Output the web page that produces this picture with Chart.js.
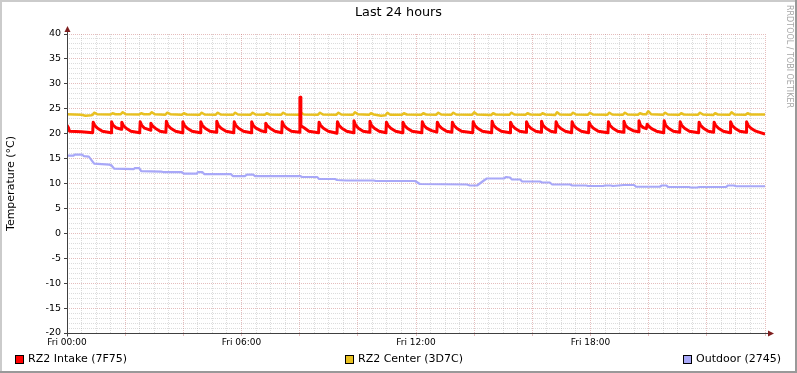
<!DOCTYPE html>
<html>
<head>
<meta charset="utf-8">
<script src="https://cdn.jsdelivr.net/npm/chart.js@4.4.1/dist/chart.umd.min.js"></script>
<style>
  html, body { margin: 0; padding: 0; background: #ffffff; }
  #wrap { width: 797px; height: 373px; }
</style>
</head>
<body>
<div id="wrap"><canvas id="myChart" width="797" height="373"></canvas></div>
<script>
// time in minutes since Fri 00:00, temperature in °C
const chartTitle = "Last 24 hours";
const yTitle = "Temperature (°C)";
const seriesNames = ["RZ2 Intake (7F75)", "RZ2 Center (3D7C)", "Outdoor (2745)"];
const seriesColors = ["#ff0000", "#e8c020", "#a8a8f8"];
const hourLabels = ["Fri 00:00", "Fri 06:00", "Fri 12:00", "Fri 18:00"];

const intakePoints = [
  [0, 21.7], [3, 21.2], [5, 20.5], [30, 20.4], [53, 20.2],
  [54, 22.3], [57, 21.7], [63, 21.1], [73, 20.5], [91, 20.2],
  [92, 22.4], [95, 21.7], [101, 21.2], [112, 20.9],
  [113, 22.3], [116, 21.7], [122, 21.1], [132, 20.5], [150, 20.2],
  [151, 22.4], [154, 21.7], [160, 21.1], [172, 20.7],
  [173, 22.1], [176, 21.6], [182, 21.1], [192, 20.5], [204, 20.3],
  [205, 22.5], [208, 21.7], [214, 21.1], [224, 20.5], [238, 20.2],
  [239, 22.4], [242, 21.7], [248, 21.1], [258, 20.5], [275, 20.2],
  [276, 22.4], [279, 21.7], [285, 21.1], [295, 20.5], [308, 20.3],
  [309, 22.5], [312, 21.7], [318, 21.1], [328, 20.5], [344, 20.2],
  [345, 22.4], [348, 21.7], [354, 21.1], [364, 20.5], [380, 20.2],
  [381, 22.4], [384, 21.7], [390, 21.1], [400, 20.6], [409, 20.4],
  [410, 22.1], [413, 21.6], [419, 21.1], [429, 20.5], [443, 20.2],
  [444, 22.4], [447, 21.7], [453, 21.1], [463, 20.5], [480, 20.3],
  [480.5, 27.3], [482, 27.3], [482.5, 21.6], [489, 21.2], [499, 20.5], [519, 20.2],
  [520, 22.3], [523, 21.7], [529, 21.1], [539, 20.5], [557, 20.1],
  [558, 22.4], [561, 21.7], [567, 21.1], [577, 20.5], [591, 20.2],
  [592, 22.6], [595, 21.8], [601, 21.1], [611, 20.5], [624, 20.3],
  [625, 22.5], [628, 21.7], [634, 21.1], [644, 20.5], [658, 20.2],
  [659, 22.3], [662, 21.7], [668, 21.1], [678, 20.5], [692, 20.2],
  [693, 22.3], [696, 21.7], [702, 21.1], [712, 20.5], [732, 20.2],
  [733, 22.4], [736, 21.7], [742, 21.1], [752, 20.6], [763, 20.3],
  [764, 22.3], [767, 21.7], [773, 21.1], [783, 20.5], [794, 20.3],
  [795, 22.3], [798, 21.7], [804, 21.1], [814, 20.5], [837, 20.2],
  [838, 22.4], [841, 21.7], [847, 21.1], [857, 20.5], [876, 20.2],
  [877, 22.5], [880, 21.7], [886, 21.1], [896, 20.5], [914, 20.2],
  [915, 22.3], [918, 21.7], [924, 21.1], [934, 20.5], [947, 20.3],
  [948, 22.4], [951, 21.7], [957, 21.1], [967, 20.5], [978, 20.3],
  [979, 22.5], [982, 21.7], [988, 21.1], [998, 20.5], [1008, 20.3],
  [1009, 22.4], [1012, 21.7], [1018, 21.1], [1028, 20.5], [1041, 20.2],
  [1042, 22.4], [1045, 21.7], [1051, 21.1], [1061, 20.5], [1076, 20.2],
  [1077, 22.3], [1080, 21.7], [1086, 21.1], [1096, 20.5], [1116, 20.2],
  [1117, 22.4], [1120, 21.7], [1126, 21.1], [1136, 20.5], [1148, 20.3],
  [1149, 22.5], [1152, 21.7], [1158, 21.1], [1168, 20.6], [1179, 20.4],
  [1180, 22.6], [1183, 21.7], [1189, 21.2], [1195, 21.0],
  [1197, 21.9], [1200, 21.5], [1206, 21.0], [1216, 20.5], [1231, 20.2],
  [1232, 22.6], [1235, 21.7], [1241, 21.1], [1251, 20.5], [1264, 20.3],
  [1265, 22.4], [1268, 21.7], [1274, 21.1], [1284, 20.5], [1303, 20.2],
  [1304, 22.3], [1307, 21.7], [1313, 21.1], [1323, 20.5], [1334, 20.3],
  [1335, 22.3], [1338, 21.7], [1344, 21.1], [1354, 20.5], [1368, 20.2],
  [1369, 22.4], [1372, 21.7], [1378, 21.1], [1388, 20.5], [1401, 20.3],
  [1402, 22.4], [1405, 21.7], [1411, 21.1], [1421, 20.5], [1440, 19.9]
];

const centerPoints = [
  [0, 23.9], [30, 23.8], [38, 23.6], [50, 23.7], [53, 23.8], [56, 24.2], [62, 23.9],
  [90, 23.85], [94, 24.1], [100, 23.9], [111, 23.9], [115, 24.3], [121, 23.9],
  [149, 23.85], [153, 24.1], [159, 23.9], [171, 23.9], [175, 24.3], [181, 23.9],
  [203, 23.8], [207, 24.2], [213, 23.9], [237, 23.8], [241, 24.1], [247, 23.85],
  [274, 23.8], [278, 24.2], [284, 23.85], [307, 23.8], [311, 24.2], [317, 23.85],
  [343, 23.8], [347, 24.2], [353, 23.85], [379, 23.8], [383, 24.2], [389, 23.85],
  [408, 23.8], [412, 24.1], [418, 23.85], [442, 23.8], [446, 24.2], [452, 23.85],
  [479, 23.8], [483, 24.2], [489, 23.85], [518, 23.8], [522, 24.2], [528, 23.85],
  [556, 23.8], [560, 24.2], [566, 23.85], [590, 23.8], [594, 24.3], [600, 23.9],
  [623, 23.8], [627, 24.1], [633, 23.85], [648, 23.6], [657, 23.7], [661, 24.2], [667, 23.8],
  [691, 23.8], [695, 24.1], [701, 23.85], [731, 23.8], [735, 24.1], [741, 23.85],
  [762, 23.8], [766, 24.2], [772, 23.85], [793, 23.8], [797, 24.2], [803, 23.85],
  [836, 23.8], [840, 24.3], [846, 23.85], [875, 23.75], [879, 24.1], [885, 23.85],
  [913, 23.8], [917, 24.2], [923, 23.85], [946, 23.8], [950, 24.1], [956, 23.85],
  [977, 23.8], [981, 24.1], [987, 23.85], [1007, 23.75], [1011, 24.3], [1017, 23.85],
  [1040, 23.8], [1044, 24.2], [1050, 23.85], [1075, 23.8], [1079, 24.2], [1085, 23.85],
  [1115, 23.8], [1119, 24.2], [1125, 23.85], [1147, 23.8], [1151, 24.2], [1157, 23.85],
  [1178, 23.8], [1182, 24.1], [1188, 23.9], [1195, 23.9], [1199, 24.5], [1205, 23.9],
  [1230, 23.8], [1234, 24.2], [1240, 23.85], [1263, 23.8], [1267, 24.1], [1273, 23.85],
  [1302, 23.8], [1306, 24.2], [1312, 23.85], [1333, 23.75], [1337, 24.1], [1343, 23.85],
  [1367, 23.8], [1371, 24.3], [1377, 23.85], [1400, 23.8], [1404, 24.1], [1410, 23.85],
  [1440, 23.85]
];

const outdoorPoints = [
  [0, 15.6], [14, 15.6], [16, 15.8], [31, 15.8], [35, 15.5], [45, 15.4],
  [56, 14.0], [87, 13.8], [91, 13.7], [97, 13.0], [138, 12.9], [140, 13.1],
  [149, 13.1], [153, 12.5], [194, 12.4], [198, 12.3], [237, 12.3], [241, 12.0],
  [268, 12.0], [270, 12.3], [279, 12.3], [283, 11.9], [338, 11.9], [342, 11.5],
  [367, 11.5], [371, 11.8], [384, 11.8], [388, 11.5], [481, 11.5], [485, 11.3],
  [516, 11.3], [520, 10.9], [553, 10.9], [557, 10.7], [576, 10.6], [633, 10.6],
  [637, 10.5], [718, 10.5], [728, 9.9], [825, 9.8], [831, 9.6], [846, 9.6],
  [860, 10.6], [866, 11.0], [901, 11.0], [906, 11.3], [914, 11.2], [918, 10.8],
  [935, 10.8], [939, 10.4], [976, 10.4], [980, 10.2], [996, 10.2], [1001, 9.8],
  [1038, 9.8], [1042, 9.6], [1071, 9.6], [1075, 9.5], [1106, 9.5], [1110, 9.6],
  [1122, 9.6], [1126, 9.5], [1149, 9.7], [1170, 9.7], [1174, 9.35], [1223, 9.35],
  [1227, 9.6], [1236, 9.6], [1240, 9.3], [1283, 9.3], [1287, 9.2], [1300, 9.2],
  [1304, 9.3], [1360, 9.3], [1364, 9.6], [1376, 9.6], [1380, 9.45], [1440, 9.45]
];

const FONT = "DejaVu Sans";
const minorGrid = "rgba(140,140,140,0.3)";
const majorGrid = "rgba(190,90,90,0.4)";

function toXY(points) {
    return points.map(p => ({ x: p[0], y: p[1] }));
}

const rrdDecor = {
    id: "rrdDecor",
    beforeDraw(chart) {
        const ctx = chart.ctx;
        const w = chart.width, h = chart.height;
        ctx.save();
        ctx.fillStyle = "#ffffff";
        ctx.fillRect(0, 0, w, h);
        ctx.fillStyle = "#cbcbcb";
        ctx.fillRect(0, 0, w, 2);
        ctx.fillRect(0, 0, 2, h);
        ctx.fillStyle = "#999999";
        ctx.fillRect(0, h - 2, w, 2);
        ctx.fillRect(w - 2, 0, 2, h);
        ctx.restore();
    },
    afterDatasetsDraw(chart) {
        const ctx = chart.ctx;
        const x = chart.scales.x, y = chart.scales.y;
        const x0 = Math.round(x.getPixelForValue(0)) + 0.5;
        const y0 = Math.round(y.getPixelForValue(-20)) + 0.5;
        const xEnd = x.getPixelForValue(1440);
        const yTop = y.getPixelForValue(40);
        ctx.save();
        ctx.strokeStyle = "#404040";
        ctx.lineWidth = 1;
        ctx.beginPath();
        ctx.moveTo(x0 - 3, y0);
        ctx.lineTo(xEnd + 6, y0);
        ctx.moveTo(x0, y0 + 3);
        ctx.lineTo(x0, yTop - 5);
        ctx.stroke();
        // arrows
        ctx.fillStyle = "#7f1f1f";
        ctx.beginPath();
        ctx.moveTo(xEnd + 9, y0);
        ctx.lineTo(xEnd + 3, y0 - 3);
        ctx.lineTo(xEnd + 3, y0 + 3);
        ctx.closePath();
        ctx.fill();
        ctx.beginPath();
        ctx.moveTo(x0, yTop - 8);
        ctx.lineTo(x0 - 3, yTop - 2);
        ctx.lineTo(x0 + 3, yTop - 2);
        ctx.closePath();
        ctx.fill();
        ctx.restore();
    },
    afterDraw(chart) {
        const ctx = chart.ctx;
        ctx.save();
        ctx.fillStyle = "#000000";
        ctx.font = "12.8px '" + FONT + "'";
        ctx.textAlign = "center";
        ctx.textBaseline = "middle";
        ctx.fillText(chartTitle, chart.width / 2, 13);

        // legend
        const legendX = [15, 345, 683];
        ctx.font = "11px '" + FONT + "'";
        ctx.textAlign = "left";
        seriesNames.forEach((name, i) => {
            ctx.fillStyle = seriesColors[i];
            ctx.fillRect(legendX[i], 355, 9, 9);
            ctx.strokeStyle = "#000000";
            ctx.lineWidth = 1;
            ctx.strokeRect(legendX[i] + 0.5, 355.5, 8, 8);
            ctx.fillStyle = "#000000";
            ctx.fillText(name, legendX[i] + 13, 359.5);
        });

        // watermark
        ctx.translate(789, 5);
        ctx.rotate(Math.PI / 2);
        ctx.font = "8px '" + FONT + "'";
        ctx.fillStyle = "#a6a6a6";
        ctx.textBaseline = "middle";
        ctx.fillText("RRDTOOL / TOBI OETIKER", 0, 0);
        ctx.restore();
    }
};

const ctx = document.getElementById("myChart").getContext("2d");
const myChart = new Chart(ctx, {
    type: "line",
    data: {
        datasets: [
            { label: seriesNames[0], data: toXY(intakePoints), borderColor: seriesColors[0], borderWidth: 3 },
            { label: seriesNames[1], data: toXY(centerPoints), borderColor: seriesColors[1], borderWidth: 2.5 },
            { label: seriesNames[2], data: toXY(outdoorPoints), borderColor: seriesColors[2], borderWidth: 2.2 }
        ]
    },
    options: {
        responsive: false,
        animation: false,
        layout: { padding: { top: 34, right: 32, bottom: 0, left: 0 } },
        elements: {
            point: { radius: 0 },
            line: { tension: 0, fill: false, borderJoinStyle: "round", borderCapStyle: "butt" }
        },
        plugins: {
            legend: { display: false },
            title: { display: false },
            tooltip: { enabled: false }
        },
        scales: {
            x: {
                type: "linear",
                min: 0,
                max: 1440,
                afterFit: scale => { scale.height = 40; },
                border: { display: false, dash: [1, 1] },
                grid: {
                    color: c => (c.tick.value % 120 === 0 ? majorGrid : minorGrid),
                    tickColor: c => (c.tick.value % 120 === 0 ? majorGrid : "rgba(0,0,0,0)"),
                    tickLength: 3,
                    tickBorderDash: []
                },
                ticks: {
                    stepSize: 30,
                    autoSkip: false,
                    maxRotation: 0,
                    minRotation: 0,
                    padding: 1,
                    color: "#000000",
                    font: { family: FONT, size: 9 },
                    callback: v => (v % 360 === 0 && v < 1440 ? hourLabels[v / 360] : "")
                }
            },
            y: {
                min: -20,
                max: 40,
                afterFit: scale => { scale.width = 67; },
                border: { display: false, dash: [1, 1] },
                title: {
                    display: true,
                    text: yTitle,
                    color: "#000000",
                    font: { family: FONT, size: 11 },
                    padding: { top: 5, bottom: 0 }
                },
                grid: {
                    color: c => (c.tick.value % 5 === 0 ? majorGrid : minorGrid),
                    tickColor: c => (c.tick.value % 5 === 0 ? "#404040" : "rgba(0,0,0,0)"),
                    tickLength: 3,
                    tickBorderDash: []
                },
                ticks: {
                    stepSize: 1,
                    autoSkip: false,
                    padding: 3,
                    color: "#000000",
                    font: { family: FONT, size: 9.5 },
                    callback: v => (v % 5 === 0 ? String(v) : "")
                }
            }
        }
    },
    plugins: [rrdDecor]
});
</script>
</body>
</html>
